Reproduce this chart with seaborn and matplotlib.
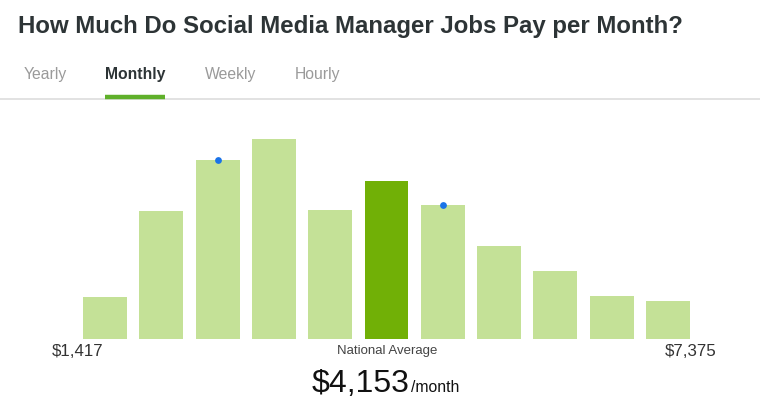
import matplotlib
matplotlib.use("Agg")
import matplotlib.pyplot as plt
import seaborn as sns
import pandas as pd

# ---- data ----
bins = ["b1", "b2", "b3", "b4", "b5", "b6", "b7", "b8", "b9", "b10", "b11"]
counts = [42, 128, 179, 200, 129, 158, 134, 93, 68, 43, 38]
highlight = "b6"
marked_bins = ["b3", "b7"]
tabs = ["Yearly", "Monthly", "Weekly", "Hourly"]
active_tab = "Monthly"
title = "How Much Do Social Media Manager Jobs Pay per Month?"
min_label = "$1,417"
max_label = "$7,375"
avg_caption = "National Average"
avg_value = "$4,153"
avg_unit = "/month"

LIGHT = "#c4e197"
DARK = "#71b006"
BLUE = "#1a73e8"

sns.set_theme(style="white")
plt.rcParams["font.family"] = ["Liberation Sans", "DejaVu Sans"]

W, H = 760, 413
fig = plt.figure(figsize=(W / 100, H / 100), dpi=100)
fig.patch.set_facecolor("white")

def fx(px):
    return px / W

def fy(py):
    return 1 - py / H

# axes for bars: left 83 -> right 690 px, bottom 339, top 139 px
ax = fig.add_axes([fx(83), fy(339), fx(690) - fx(83), fy(139) - fy(339)])
df = pd.DataFrame({"bin": bins, "count": counts})
df["kind"] = ["hi" if b == highlight else "lo" for b in bins]
sns.barplot(data=df, x="bin", y="count", hue="kind", palette={"hi": DARK, "lo": LIGHT},
            width=0.78, legend=False, ax=ax, saturation=1, dodge=False, linewidth=0)
ax.set_xlim(-0.39, len(bins) - 1 + 0.39)
ax.set_ylim(0, max(counts))
mx = [bins.index(b) for b in marked_bins]
my = [counts[i] for i in mx]
ax.scatter(mx, my, s=24, color=BLUE, zorder=5, clip_on=False, linewidths=0)
ax.axis("off")

# title
fig.text(fx(18), fy(27), title, fontsize=17.3, fontweight="bold", color="#2d3436",
         ha="left", va="center")

# tabs
tab_x = [24, 105, 205, 295]
for t, x in zip(tabs, tab_x):
    active = t == active_tab
    fig.text(fx(x), fy(74), t, fontsize=11.3, color="#2d3436" if active else "#9a9a9a",
             fontweight="bold" if active else "normal", ha="left", va="center")

# separator lines
fig.add_artist(plt.Line2D([0, 1], [fy(98.5), fy(98.5)], color="#dddddd", lw=1.2))
fig.add_artist(plt.Line2D([fx(105), fx(165)], [fy(97), fy(97)], color="#5fb02a", lw=3.2,
                          solid_capstyle="butt"))

# bottom labels
fig.text(fx(52), fy(352), min_label, fontsize=12.2, color="#333333", ha="left", va="center")
fig.text(fx(717), fy(352), max_label, fontsize=12.2, color="#333333", ha="right", va="center")
fig.text(fx(387), fy(351), avg_caption, fontsize=9.5, color="#444444", ha="center", va="center")
fig.text(fx(410), fy(392), avg_value, fontsize=23, color="#111111", ha="right", va="baseline")
fig.text(fx(411), fy(392), avg_unit, fontsize=11.3, color="#111111", ha="left", va="baseline")

fig.savefig("out.png", dpi=100, facecolor="white")
